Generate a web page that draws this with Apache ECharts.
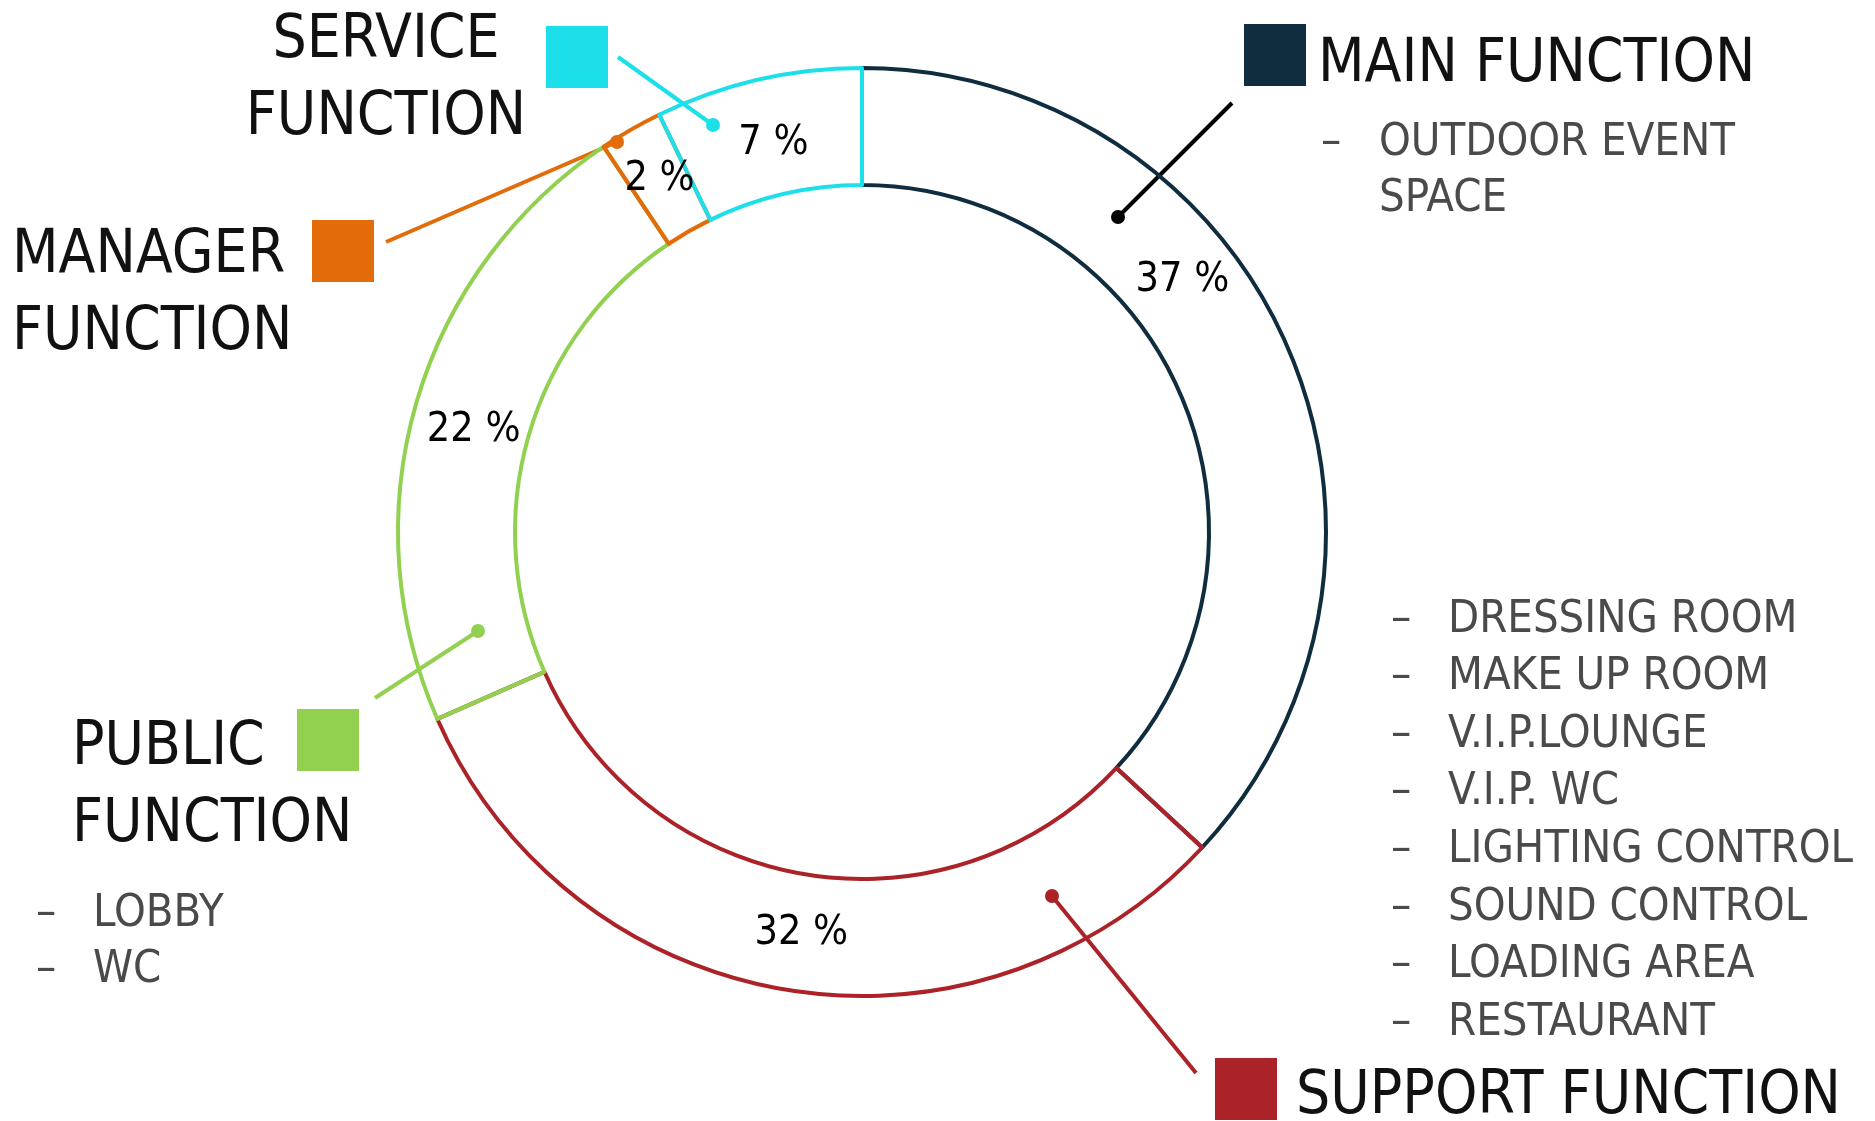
<!DOCTYPE html>
<html>
<head>
<meta charset="utf-8">
<title>Function ratio</title>
<script src="https://cdn.jsdelivr.net/npm/echarts@6/dist/echarts.min.js"></script>
<style>
  html, body { margin: 0; padding: 0; background: #fff; }
  #chart { width: 1875px; height: 1121px; }
</style>
</head>
<body>
<div id="chart"></div>
<script>
// slices, clockwise from 12 o'clock
var names = ['MAIN FUNCTION', 'SUPPORT FUNCTION', 'PUBLIC FUNCTION', 'MANAGER FUNCTION', 'SERVICE FUNCTION'];
var shares = [36.9, 31.5, 22.2, 2.2, 7.2];
var colors = ['#0f2d3f', '#ab2328', '#92d050', '#e36c0a', '#1ddfe9'];

var mainItems = ['OUTDOOR EVENT', 'SPACE'];
var supportItems = ['DRESSING ROOM', 'MAKE UP ROOM', 'V.I.P.LOUNGE', 'V.I.P. WC',
  'LIGHTING CONTROL', 'SOUND CONTROL', 'LOADING AREA', 'RESTAURANT'];
var publicItems = ['LOBBY', 'WC'];

// nudges for the % labels (px), the picture doesn't put them exactly mid-slice
var labelShift = [[-54, -88], [7, -2], [4, 12], [1, 2], [3, 9]];

var TITLE_FONT = '"DejaVu Sans Condensed", "DejaVu Sans", sans-serif';
var titleStyle = { fontSize: 60, fontFamily: TITLE_FONT, fill: '#111' };
var itemStyleTxt = { fontSize: 45, fontFamily: TITLE_FONT, fontWeight: 300, fill: '#4a4a4a' };

var chart = echarts.init(document.getElementById('chart'));

var graphics = [];

function square(x, y, color) {
  graphics.push({ type: 'rect', shape: { x: x, y: y, width: 62, height: 62 }, style: { fill: color }, silent: true });
}
function title(text, x, y, align) {
  graphics.push({
    type: 'text', silent: true,
    style: Object.assign({ text: text, x: x, y: y + 5, textAlign: align || 'left', textVerticalAlign: 'middle', lineHeight: 77 }, titleStyle)
  });
}
function list(items, dashX, textX, y0, step, dashFirstOnly) {
  items.forEach(function (t, i) {
    var y = y0 + 4 + i * step;
    if (!(dashFirstOnly && i > 0)) {
      graphics.push({ type: 'text', silent: true,
        style: Object.assign({ text: '–', x: dashX, y: y, textVerticalAlign: 'middle' }, itemStyleTxt) });
    }
    graphics.push({ type: 'text', silent: true,
      style: Object.assign({ text: t, x: textX, y: y, textVerticalAlign: 'middle' }, itemStyleTxt) });
  });
}
function leader(x1, y1, x2, y2, color) {
  graphics.push({ type: 'line', silent: true, shape: { x1: x1, y1: y1, x2: x2, y2: y2 },
    style: { stroke: color, lineWidth: 4 } });
  graphics.push({ type: 'circle', silent: true, shape: { cx: x2, cy: y2, r: 7 }, style: { fill: color } });
}

// main
square(1244, 24, colors[0]);
title('MAIN FUNCTION', 1318, 60);
list(mainItems, 1321, 1379, 139, 56, true);
leader(1232, 103, 1118, 217, '#000');
// support
square(1215, 1058, colors[1]);
title('SUPPORT FUNCTION', 1296, 1092);
list(supportItems, 1391, 1448, 616, 57.6);
leader(1196, 1073, 1052, 896, colors[1]);
// public
square(297, 709, colors[2]);
title('PUBLIC\nFUNCTION', 72, 782);
list(publicItems, 36, 93, 910, 56);
leader(375, 698, 478, 631, colors[2]);
// manager
square(312, 220, colors[3]);
title('MANAGER\nFUNCTION', 12, 290);
leader(386, 242, 617, 142, colors[3]);
// service
square(546, 26, colors[4]);
title('SERVICE\nFUNCTION', 386, 75, 'center');
leader(618, 57, 713, 125, colors[4]);

var option = {
  backgroundColor: '#fff',
  animation: false,
  series: [{
    type: 'pie',
    center: [862, 532],
    radius: [347, 464],
    startAngle: 90,
    clockwise: true,
    silent: true,
    emphasis: { disabled: true },
    label: {
      show: true,
      position: 'inside',
      rotate: 0,
      fontSize: 41,
      fontFamily: TITLE_FONT,
      color: '#000',
      formatter: function (p) { return Math.round(p.value) + ' %'; }
    },
    labelLayout: function (p) {
      var s = labelShift[p.dataIndex];
      return { dx: s[0], dy: s[1] };
    },
    data: names.map(function (n, i) {
      return {
        name: n,
        value: shares[i],
        itemStyle: { color: 'rgba(0,0,0,0)', borderColor: colors[i], borderWidth: 4 }
      };
    })
  }],
  graphic: graphics
};
chart.setOption(option);
</script>
</body>
</html>
